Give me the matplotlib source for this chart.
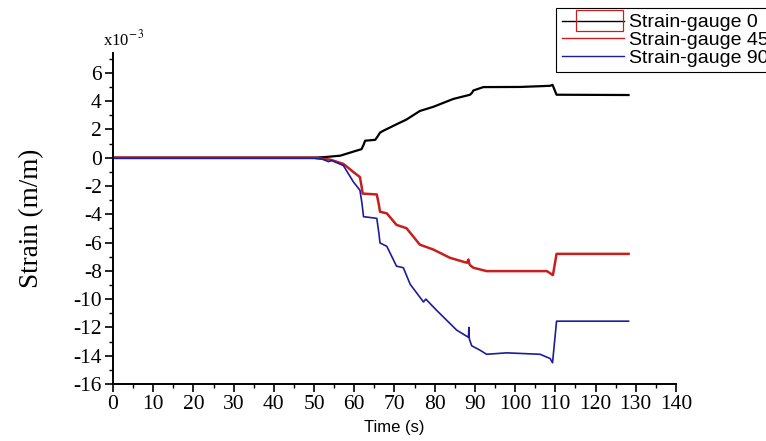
import numpy as np
import matplotlib
matplotlib.use('Agg')
import matplotlib.pyplot as plt
from matplotlib.legend_handler import HandlerLine2D
from matplotlib.patches import Rectangle
from matplotlib.lines import Line2D

# strain values are in units of 1e-3 m/m

t_sg0 = [0, 50, 53, 56.5, 60.6, 61.8, 62.3, 62.7, 65.2, 65.8, 66.4, 67.2, 70.5, 73, 76.3,
         79.7, 84.6, 88.8, 89.3, 89.6, 92.1, 101.2, 108.7, 109.3, 110.3, 128.2]
s_sg0 = [0, 0, 0.05, 0.14, 0.5, 0.6, 0.9, 1.2, 1.26, 1.5, 1.77, 1.9, 2.36, 2.7, 3.3,
         3.6, 4.15, 4.45, 4.6, 4.75, 4.99, 5.0, 5.08, 5.15, 4.45, 4.43]

t_sg45 = [0, 50, 54, 57.3, 59.8, 61.4, 61.8, 62.1, 65.6, 66.1, 66.4, 68.1, 70.5, 73, 76.3,
          79.7, 83.8, 88, 88.4, 88.6, 88.8, 89.6, 92.9, 107.9, 109.1, 109.4, 110.3, 128.2]
s_sg45 = [0, 0, -0.14, -0.44, -1.02, -1.37, -2.0, -2.54, -2.6, -3.3, -3.82, -3.94, -4.75, -4.99, -6.15,
          -6.5, -7.08, -7.43, -7.2, -7.5, -7.6, -7.78, -8.02, -8.02, -8.25, -8.3, -6.8, -6.8]

t_sg90 = [0, 50, 52, 53.6, 54.4, 57.3, 59.8, 61.4, 61.9, 62.3, 65.6, 66.1, 66.4, 68.1, 70.5,
          72.2, 73.9, 77.2, 77.8, 80.5, 83, 85.5, 88.4, 88.5, 88.6, 89.2, 91.2, 92.9, 97.9,
          106.2, 108.7, 109.3, 110.3, 128.2]
s_sg90 = [-0.05, -0.05, -0.1, -0.28, -0.2, -0.56, -1.72, -2.3, -3.2, -4.17, -4.29, -5.3, -6.03, -6.27, -7.67,
          -7.78, -8.95, -10.2, -10.0, -10.8, -11.5, -12.2, -12.7, -12.0, -12.8, -13.3, -13.6, -13.9, -13.8,
          -13.9, -14.2, -14.5, -11.56, -11.56]

labels = ['Strain-gauge 0', 'Strain-gauge 45', 'Strain-gauge 90']
colors = ['black', '#c81e1e', '#1c1c9c']

serif = ['Liberation Serif', 'DejaVu Serif']
sans = ['Liberation Sans', 'DejaVu Sans']
plt.rcParams['mathtext.fontset'] = 'stix'
plt.rcParams['axes.unicode_minus'] = False


class BoxedLine(HandlerLine2D):
	# legend handle with a red frame drawn round it, as in the original
	def create_artists(self, legend, orig_handle, xdescent, ydescent, width, height, fontsize, trans):
		arts = super().create_artists(legend, orig_handle, xdescent, ydescent, width, height, fontsize, trans)
		box = Rectangle((-xdescent + 0.22 * width, -ydescent - 0.25 * height), 0.76 * width, 1.5 * height,
		                fill=False, edgecolor='#c81e1e', lw=0.9, transform=trans)
		return list(arts) + [box]


fig = plt.figure(figsize=(7.66, 4.41), dpi=100)
ax = fig.add_axes([0.1475, 0.1293, 0.735, 0.7505])

ax.plot(t_sg0, s_sg0, color=colors[0], lw=1.6)
ax.plot(t_sg45, s_sg45, color=colors[1], lw=1.8)
ax.plot(t_sg90, s_sg90, color=colors[2], lw=1.2)

ax.set_xlim(0, 140)
ax.set_ylim(-16, 7.4)
ax.set_xticks(np.arange(0, 141, 10))
ax.set_xticks(np.arange(5, 140, 10), minor=True)
ax.set_yticks(np.arange(-16, 7, 2))
ax.set_yticks(np.arange(-15, 8, 2), minor=True)

for s in ['top', 'right']:
	ax.spines[s].set_visible(False)
for s in ['left', 'bottom']:
	ax.spines[s].set_linewidth(1.4)

ax.tick_params(which='major', direction='out', length=6, width=1.2, pad=2)
ax.tick_params(which='minor', direction='out', length=3, width=1.0)
for lab in ax.get_xticklabels() + ax.get_yticklabels():
	lab.set_family(serif)
	lab.set_fontsize(15.5)

ax.set_xlabel('Time (s)', family=sans, fontsize=12, labelpad=4)
ax.set_ylabel('Strain (m/m)', family=serif, fontsize=19.5, labelpad=21)
ax.text(-0.018, 1.01, r'x10$^{-\,3}$', transform=ax.transAxes, ha='left', va='bottom',
        family=serif, fontsize=12)

# legend (it runs off the right edge of the figure in the original)
handles = [Line2D([], [], color=c, lw=1.0) for c in colors]
leg = fig.legend(handles, labels, loc='upper left', bbox_to_anchor=(0.726, 0.982),
                 prop={'family': sans, 'size': 14}, frameon=True, fancybox=False,
                 edgecolor='black', framealpha=1, borderpad=0.3, labelspacing=0.0,
                 handlelength=3.2, handletextpad=0.25, borderaxespad=0,
                 handler_map={handles[0]: BoxedLine()})
leg.get_frame().set_linewidth(0.8)

fig.savefig('out.png', dpi=100)
